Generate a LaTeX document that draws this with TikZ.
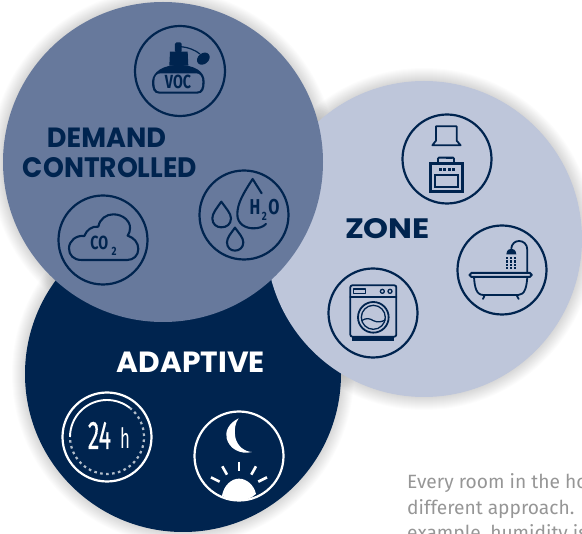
\documentclass[tikz,border=0pt]{standalone}
\usepackage{fontspec}
\setmainfont{Fira Sans}
\newfontfamily\titlefont{Poppins}
\newfontfamily\medfont[FakeBold=0.5]{Fira Sans}
\definecolor{navy}{HTML}{00244F}
\definecolor{demandc}{HTML}{67799C}
\definecolor{zonec}{HTML}{BEC6DA}
\definecolor{bodytext}{HTML}{969696}
\tikzset{
  ring/.style={draw=#1,line width=2.2pt},
  ico/.style={draw=navy,line width=2.1pt,line join=round,line cap=round},
  icothin/.style={draw=navy,line width=1.8pt,line join=round,line cap=round},
  title/.style={text=#1,inner sep=0pt},
  para/.style={text=bodytext,font=\fontsize{19.2}{20}\selectfont,anchor=base west,inner sep=0pt},
  ray/.style={draw=white,line width=2.6pt},
  zm/.style={x=0.3333pt,y=-0.3333pt},
  lab/.style={text=navy,inner sep=0pt,font=\bfseries\fontsize{#1}{#1}\selectfont}
}
\newcommand{\cond}[2]{\scalebox{#1}[1]{#2}}
\newcommand{\tit}[3]{\resizebox{#1pt}{#2pt}{\titlefont\bfseries #3}}
\newcommand{\softshadow}[3]{%
  \foreach \d in {1,...,13}{\fill[black,opacity=0.011] (#1,#2) circle[radius=#3+\d];}}
\begin{document}
\begin{tikzpicture}[x=1pt,y=-1pt]
\useasboundingbox (0,0) rectangle (582,534);
\clip (0,0) rectangle (582,534);
% shadows fall on the white ground only
\softshadow{183}{374}{158}
\softshadow{424}{239}{158}
\softshadow{163}{162}{160}
\fill[navy] (183,374) circle[radius=158];
\fill[zonec] (424,239) circle[radius=158];
\fill[demandc] (163,162) circle[radius=160];

\node[title=navy] (tdemand) at (106.5,137.5) {\tit{119}{19.5}{DEMAND}};
\node[title=navy] (tcontrolled) at (110,168) {\tit{174}{20}{CONTROLLED}};
\node[title=navy] (tzone) at (387.5,229) {\tit{85}{20}{ZONE}};
\node[title=white] (tadaptive) at (191,362) {\tit{148}{20.5}{ADAPTIVE}};

\node[para] (p1) at (407,489) {Every room in the house requires a};
\node[para] (p2) at (407,514.5) {different approach. In the kitchen, for};
\node[para] (p3) at (407,540) {example, humidity is};

% VOC
\draw[ring=navy] (180,71) circle[radius=45];
\begin{scope}[shift={(120,10)},zm]
  \fill[navy,rounded corners=1.5pt] (165,97) rectangle (185,128);
  \fill[navy] (150,125) -- (203,125) -- (205,167) -- (148,167) -- cycle;
  \draw[navy,line width=1.2pt] (183,110) .. controls (205,112) and (225,120) .. (240,132);
  \fill[navy,rotate around={40:(250,146)}] (250,146) ellipse[x radius=21,y radius=16];
  \fill[navy] (118,251) .. controls (100,251) and (96,235) .. (96,215)
     .. controls (98,185) and (130,165) .. (175,165)
     .. controls (225,165) and (254,185) .. (254,215)
     .. controls (254,235) and (250,251) .. (232,251) -- cycle;
  \fill[demandc] (120,245) .. controls (106,245) and (103,232) .. (103,215)
     .. controls (103,200) and (110,190) .. (122,190) -- (228,190)
     .. controls (240,190) and (247,200) .. (247,215)
     .. controls (247,232) and (244,245) .. (230,245) -- cycle;
  \node[lab=19] (tvoc) at (174,216) {\cond{0.75}{VOC}};
\end{scope}

% CO2 and H2O
\draw[ring=navy] (103,240) circle[radius=44.5];
\draw[ring=navy] (244,215) circle[radius=44.5];
\begin{scope}[shift={(40,165)},zm]
  \draw[ico] (125,285) .. controls (100,285) and (87,270) .. (87,250)
    .. controls (87,228) and (108,210) .. (133,213)
    .. controls (140,195) and (155,183) .. (175,185)
    .. controls (180,160) and (200,148) .. (220,148)
    .. controls (250,148) and (272,170) .. (270,190)
    .. controls (270,198) and (268,205) .. (263,212)
    .. controls (282,218) and (295,233) .. (295,252)
    .. controls (295,272) and (280,285) .. (262,285) -- cycle;
  \node[lab=19] (tco) at (178,235) {\cond{0.75}{CO}};
  \node[lab=12] (tcotwo) at (222,258) {\cond{0.8}{2}};
  \draw[ico] (665,85) -- (638,42) .. controls (610,85) and (592,115) .. (592,148)
     .. controls (592,178) and (618,190) .. (640,190) .. controls (655,190) and (668,187) .. (678,177);
  \draw[ico] (544,110) .. controls (530,130) and (517,145) .. (517,160)
     .. controls (517,178) and (530,187) .. (544,187) .. controls (560,187) and (573,178) .. (573,160)
     .. controls (573,145) and (558,130) .. (544,110) -- cycle;
  \draw[ico] (585,188) .. controls (573,205) and (561,218) .. (561,232)
     .. controls (561,248) and (572,257) .. (585,257) .. controls (598,257) and (610,248) .. (610,232)
     .. controls (610,218) and (597,205) .. (585,188) -- cycle;
  \node[lab=21.5] (th) at (645,127) {\cond{0.75}{H}};
  \node[lab=21.5] (to) at (702,127) {\cond{0.75}{O}};
  \node[lab=12] (thtwo) at (673,155) {\cond{0.8}{2}};
\end{scope}

% Hood and stove
\draw[ring=navy] (447,159) circle[radius=44.5];
\begin{scope}[shift={(390,100)},zm]
  \draw[icothin] (138,79) -- (200,79) -- (200,122) -- (212,136) -- (127,136) -- (138,122) -- cycle;
  \draw[draw=navy,line width=2.4pt] (121,191) rectangle (217,274);
  \draw[draw=navy,line width=2.2pt] (136,226) rectangle (204,261);
  \draw[draw=navy,line width=1.9pt,rounded corners=1pt] (144,173) rectangle (192,190);
  \fill[navy] (167,170) rectangle (185,176);
  \foreach \xx in {147,160,173,186}{\fill[navy] (\xx,204) rectangle +(9,8);}
\end{scope}

% Bath
\draw[ring=navy] (502,270) circle[radius=44.5];
\begin{scope}[shift={(390,100)},zm]
  \draw[draw=navy,line width=2pt,rounded corners=1.8pt] (239,519) rectangle (425,531);
  \draw[icothin] (252,531) .. controls (254,560) and (258,585) .. (280,585) -- (385,585)
     .. controls (405,585) and (410,560) .. (412,531);
  \draw[icothin] (284,586) -- (279,597);
  \draw[icothin] (380,586) -- (386,597);
  \draw[icothin] (412,518) -- (412,450) .. controls (412,432) and (400,423) .. (387,423)
     .. controls (375,423) and (365,432) .. (364,445);
  \fill[navy] (349,463) .. controls (350,450) and (358,446) .. (364,446) .. controls (370,446) and (378,450) .. (379,463) -- cycle;
  \foreach \xx in {348,360,372}{\foreach \yy in {471,481,491,501}{\fill[navy] (\xx,\yy) rectangle +(7,7);}}
\end{scope}

% Washer
\draw[ring=navy] (373,313) circle[radius=44.5];
\begin{scope}[shift={(320,260)},zm]
  \draw[icothin,rounded corners=2pt] (91,76) rectangle (229,230);
  \draw[icothin] (91,110) -- (229,110);
  \draw[icothin,line width=1.3pt] (101,87) rectangle (137,100);
  \draw[icothin,line width=1.3pt] (187,94) circle[radius=6];
  \draw[icothin,line width=1.3pt] (210,94) circle[radius=6];
  \draw[icothin] (160,172) circle[radius=46];
  \draw[icothin,line width=1.3pt] (160,172) circle[radius=36];
  \draw[icothin,line width=1.3pt] (125,182) .. controls (140,172) and (150,176) .. (160,182) .. controls (172,188) and (185,186) .. (196,180);
  \fill[navy] (97,230) rectangle (222,243);
\end{scope}

% 24 h
\draw[ring=white] (107,437) circle[radius=44.5];
\draw[draw=white,line width=1.9pt] (70,437) arc[start angle=180,end angle=308,radius=37];
\draw[draw=white!70!navy,line width=2.2pt,dash pattern=on 2.6pt off 3.4pt] (129.8,407.8) arc[start angle=308,end angle=540,radius=37];
\node[text=white,font=\medfont\fontsize{40}{40}\selectfont,inner sep=0pt,anchor=base] (t24) at (99.5,449) {\cond{0.58}{24}};
\node[text=white,font=\fontsize{28}{28}\selectfont,inner sep=0pt,anchor=base] (th24) at (125,449) {\cond{0.6}{h}};

% Moon and sun
\draw[ring=white] (239,456) circle[radius=44.5];
\begin{scope}[shift={(50,380)},zm]
  \fill[white] (566,115) .. controls (535,130) and (525,155) .. (530,175)
     .. controls (537,205) and (570,225) .. (606,216)
     .. controls (585,215) and (562,200) .. (556,172)
     .. controls (552,150) and (555,130) .. (566,115) -- cycle;
  \fill[white] (516,347) .. controls (522,315) and (545,296) .. (567,296)
     .. controls (590,296) and (612,315) .. (618,342)
     .. controls (602,357) and (585,361) .. (567,361) .. controls (548,361) and (530,358) .. (516,347) -- cycle;
  \draw[ray] (567,245) -- (567,273);
  \draw[ray] (517,259) -- (531,284);
  \draw[ray] (618,259) -- (604,284);
  \draw[ray] (483,292) -- (509,305);
  \draw[ray] (651,292) -- (625,305);
\end{scope}
\end{tikzpicture}
\end{document}
